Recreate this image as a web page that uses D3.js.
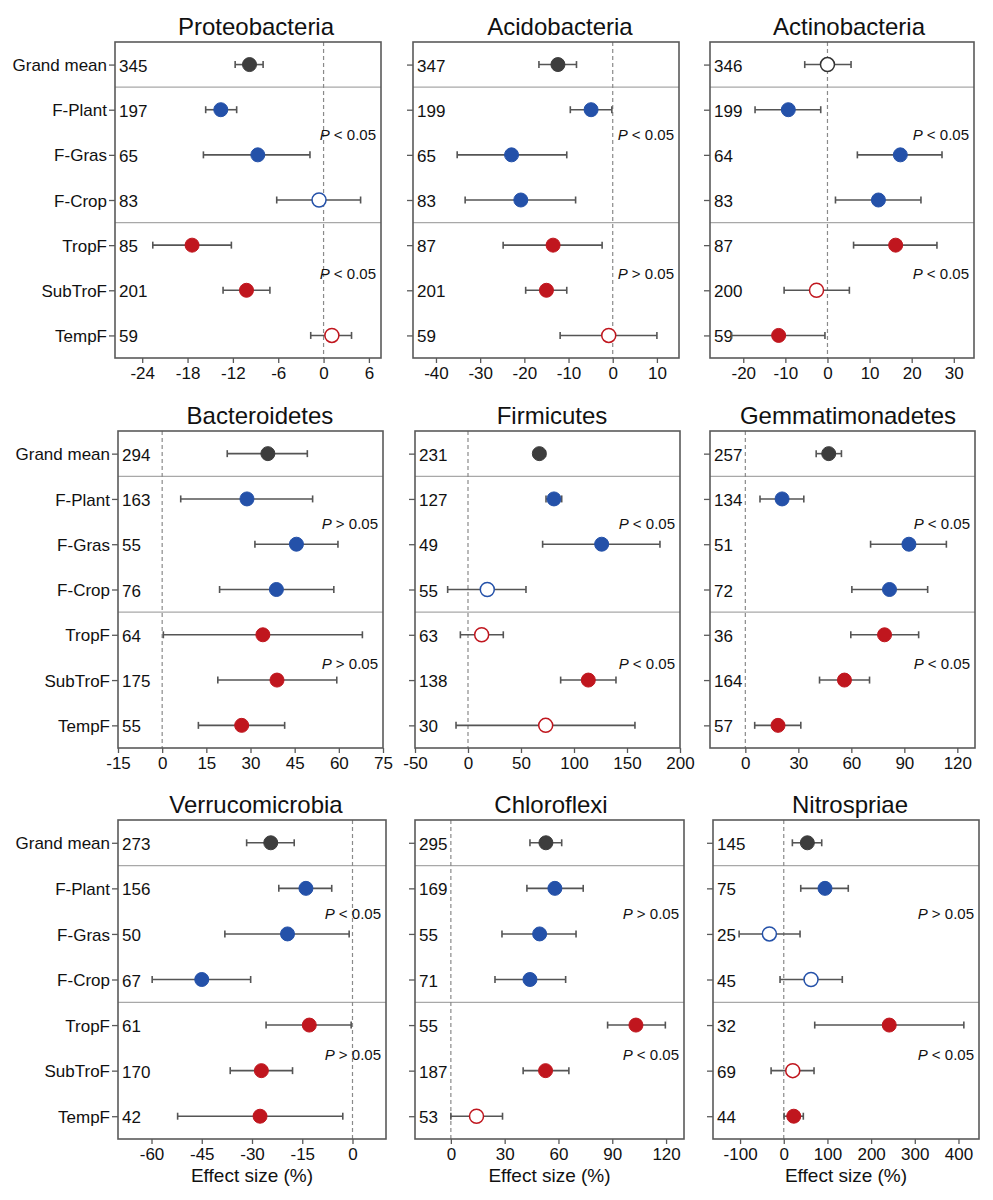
<!DOCTYPE html>
<html>
<head>
<meta charset="utf-8">
<script src="https://cdn.jsdelivr.net/npm/d3@7"></script>
<style>
  html, body { margin: 0; padding: 0; background: #ffffff; }
  svg { display: block; }
  text { font-family: "Liberation Sans", Arial, sans-serif; fill: #111; }
</style>
</head>
<body>
<svg id="chart" width="993" height="1200"></svg>
<script>
// ---------------- DATA ----------------
const rowLabels = ["Grand mean", "F-Plant", "F-Gras", "F-Crop", "TropF", "SubTroF", "TempF"];
const panelTitles = ["Proteobacteria", "Acidobacteria", "Actinobacteria",
                     "Bacteroidetes", "Firmicutes", "Gemmatimonadetes",
                     "Verrucomicrobia", "Chloroflexi", "Nitrospriae"];

const sampleSizes = [
  [345, 197, 65, 83, 85, 201, 59],
  [347, 199, 65, 83, 87, 201, 59],
  [346, 199, 64, 83, 87, 200, 59],
  [294, 163, 55, 76, 64, 175, 55],
  [231, 127, 49, 55, 63, 138, 30],
  [257, 134, 51, 72, 36, 164, 57],
  [273, 156, 50, 67, 61, 170, 42],
  [295, 169, 55, 71, 55, 187, 53],
  [145, 75, 25, 45, 32, 69, 44]
];

const effectMeans = [
  [-9.8, -13.6, -8.7, -0.6, -17.4, -10.2, 1.1],
  [-12.4, -4.9, -22.9, -20.8, -13.5, -15.0, -0.9],
  [0.0, -9.3, 17.3, 12.1, 16.2, -2.6, -11.6],
  [35.9, 28.8, 45.6, 38.8, 34.2, 39.0, 27.0],
  [67.3, 81.1, 126.1, 18.2, 12.9, 113.5, 73.3],
  [47.2, 20.8, 92.6, 81.6, 78.8, 56.1, 18.5],
  [-24.4, -13.9, -19.4, -45.0, -12.9, -27.2, -27.6],
  [53.0, 58.0, 49.5, 44.1, 103.2, 52.8, 14.3],
  [54.0, 94.4, -32.9, 62.4, 241.5, 20.6, 22.9]
];

const ciLower = [
  [-11.7, -15.6, -15.9, -6.2, -22.6, -13.3, -1.7],
  [-16.7, -9.6, -35.2, -33.4, -24.8, -19.7, -11.9],
  [-5.4, -17.2, 7.1, 1.9, 6.2, -10.3, -22.8],
  [22.1, 6.3, 31.5, 19.5, 0.4, 18.9, 12.3],
  [62.0, 73.6, 70.4, -19.2, -7.2, 87.4, -11.3],
  [40.1, 8.3, 70.9, 60.3, 59.7, 42.0, 5.3],
  [-31.6, -22.0, -38.1, -59.8, -25.8, -36.5, -52.2],
  [44.1, 42.4, 28.5, 24.6, 87.4, 40.3, 0.0],
  [19.7, 38.9, -102.2, -8.5, 70.9, -29.0, 0.7]
];

const ciUpper = [
  [-8.0, -11.5, -1.8, 4.9, -12.2, -7.1, 3.7],
  [-8.2, -0.2, -10.4, -8.4, -2.4, -10.4, 10.0],
  [5.6, -1.6, 27.2, 22.2, 26.0, 5.2, -0.6],
  [49.3, 51.1, 59.7, 58.3, 68.0, 59.3, 41.6],
  [73.0, 88.4, 181.1, 54.7, 33.3, 139.6, 157.5],
  [54.4, 33.1, 113.8, 103.2, 98.1, 70.3, 31.4],
  [-17.4, -6.2, -1.0, -30.4, -0.4, -17.9, -2.9],
  [61.8, 73.8, 69.8, 64.0, 119.6, 65.8, 28.8],
  [86.9, 147.7, 37.3, 134.0, 412.3, 69.3, 44.8]
];

// 1 = significant (filled symbol), 0 = not significant (open symbol)
const significant = [
  [1, 1, 1, 0, 1, 1, 0],
  [1, 1, 1, 1, 1, 1, 0],
  [0, 1, 1, 1, 1, 0, 1],
  [1, 1, 1, 1, 1, 1, 1],
  [1, 1, 1, 0, 0, 1, 0],
  [1, 1, 1, 1, 1, 1, 1],
  [1, 1, 1, 1, 1, 1, 1],
  [1, 1, 1, 1, 1, 1, 0],
  [1, 1, 0, 0, 1, 0, 1]
];

// between-group test: [land-use groups, forest-type groups]
const pComparisons = [
  ["<", "<"], ["<", ">"], ["<", "<"],
  [">", ">"], ["<", "<"], ["<", "<"],
  ["<", ">"], [">", "<"], [">", "<"]
];
const pThreshold = "0.05";

const xTicks = [
  [-24, -18, -12, -6, 0, 6],
  [-40, -30, -20, -10, 0, 10],
  [-20, -10, 0, 10, 20, 30],
  [-15, 0, 15, 30, 45, 60, 75],
  [-50, 0, 50, 100, 150, 200],
  [0, 30, 60, 90, 120],
  [-60, -45, -30, -15, 0],
  [0, 30, 60, 90, 120],
  [-100, 0, 100, 200, 300, 400]
];

const xAxisTitle = "Effect size (%)";

// ---------------- LAYOUT ----------------
const xDomains = [
  [-27.6, 7.6], [-45.2, 15], [-27.9, 34.8],
  [-15, 75], [-50, 200], [-20, 130],
  [-70, 10], [-20, 130], [-162, 447]
];
const frames = [
  {x0: 115, x1: 381, y0: 42, y1: 358},
  {x0: 413, x1: 679, y0: 42, y1: 358},
  {x0: 710, x1: 974, y0: 42, y1: 358},
  {x0: 118, x1: 383, y0: 431, y1: 748},
  {x0: 415, x1: 680, y0: 431, y1: 748},
  {x0: 710, x1: 975, y0: 431, y1: 748},
  {x0: 118, x1: 386, y0: 820, y1: 1139},
  {x0: 415, x1: 684, y0: 820, y1: 1139},
  {x0: 713, x1: 979, y0: 820, y1: 1139}
];
const titleCenters = [256, 560, 849, 260, 552, 848, 256, 551, 850];

const COL_GRAND = "#3d3d3d";
const COL_BLUE = "#2451a9";
const COL_RED = "#c0161e";
const groupColor = i => i === 0 ? COL_GRAND : (i <= 3 ? COL_BLUE : COL_RED);

const svg = d3.select("#chart");

panelTitles.forEach((title, p) => {
  const f = frames[p];
  const g = svg.append("g");
  const x = d3.scaleLinear().domain(xDomains[p]).range([f.x0, f.x1]);
  const y = d3.scalePoint().domain(d3.range(rowLabels.length)).range([f.y0, f.y1]).padding(0.5);
  const step = y.step();

  // separators between groups
  [0.5, 3.5].forEach(r => {
    const yy = y(0) + r * step;
    g.append("line").attr("x1", f.x0).attr("x2", f.x1).attr("y1", yy).attr("y2", yy)
      .attr("stroke", "#a8a8a8").attr("stroke-width", 1.2);
  });

  // zero dashed line
  g.append("line").attr("x1", x(0)).attr("x2", x(0)).attr("y1", f.y0).attr("y2", f.y1)
    .attr("stroke", "#8a8a8a").attr("stroke-width", 1.2).attr("stroke-dasharray", "4,3");

  // x axis
  const xAxis = d3.axisBottom(x).tickValues(xTicks[p]).tickSize(5).tickPadding(4).tickFormat(d3.format("d"));
  const ax = g.append("g").attr("transform", `translate(0,${f.y1})`).call(xAxis);
  ax.select(".domain").remove();
  ax.selectAll(".tick line").attr("stroke", "#5a5a5a").attr("stroke-width", 1.3);
  ax.selectAll(".tick text").attr("font-size", 17).attr("fill", "#111")
    .attr("font-family", "'Liberation Sans', Arial, sans-serif")
    .text(d => d < 0 ? "-" + Math.abs(d) : String(d));

  // y axis ticks (and labels on left column)
  const yAxis = d3.axisLeft(y).tickSize(6).tickPadding(2)
    .tickFormat(i => (p % 3 === 0) ? rowLabels[i] : "");
  const ay = g.append("g").attr("transform", `translate(${f.x0},0)`).call(yAxis);
  ay.select(".domain").remove();
  ay.selectAll(".tick line").attr("stroke", "#5a5a5a").attr("stroke-width", 1.3);
  ay.selectAll(".tick text").attr("font-size", 17).attr("fill", "#111")
    .attr("font-family", "'Liberation Sans', Arial, sans-serif")
    .attr("dy", "0.36em");

  // sample size numbers
  g.selectAll("text.n").data(sampleSizes[p]).enter().append("text")
    .attr("class", "n")
    .attr("x", f.x0 + 4)
    .attr("y", (d, i) => y(i) + 7)
    .attr("font-size", 17)
    .text(d => d);

  // error bars
  const rows = d3.range(rowLabels.length).map(i => ({
    i, m: effectMeans[p][i], lo: ciLower[p][i], hi: ciUpper[p][i], sig: significant[p][i]
  }));
  const eb = g.selectAll("g.eb").data(rows).enter().append("g").attr("class", "eb");
  eb.append("line").attr("x1", d => x(d.lo)).attr("x2", d => x(d.hi))
    .attr("y1", d => y(d.i)).attr("y2", d => y(d.i))
    .attr("stroke", "#555").attr("stroke-width", 1.6);
  ["lo", "hi"].forEach(k => {
    eb.append("line").attr("x1", d => x(d[k])).attr("x2", d => x(d[k]))
      .attr("y1", d => y(d.i) - 3.5).attr("y2", d => y(d.i) + 3.5)
      .attr("stroke", "#555").attr("stroke-width", 1.6);
  });

  // points
  g.selectAll("circle.pt").data(rows).enter().append("circle")
    .attr("class", "pt")
    .attr("cx", d => x(d.m)).attr("cy", d => y(d.i)).attr("r", 7)
    .attr("fill", d => d.sig ? groupColor(d.i) : "#ffffff")
    .attr("stroke", d => d.i === 0 && !d.sig ? "#333" : groupColor(d.i))
    .attr("stroke-width", d => d.sig ? 1 : 1.5);

  // P-value labels
  [[2, -15], [5, -11]].forEach(([r, off], k) => {
    const t = g.append("text").attr("x", f.x1 - 5).attr("y", y(r) + off)
      .attr("text-anchor", "end").attr("font-size", 15);
    t.append("tspan").attr("font-style", "italic").text("P");
    t.append("tspan").text(" " + pComparisons[p][k] + " " + pThreshold);
  });

  // frame
  g.append("rect").attr("x", f.x0).attr("y", f.y0).attr("width", f.x1 - f.x0).attr("height", f.y1 - f.y0)
    .attr("fill", "none").attr("stroke", "#5a5a5a").attr("stroke-width", 1.6);

  // title
  g.append("text").attr("x", titleCenters[p]).attr("y", f.y0 - 7)
    .attr("text-anchor", "middle").attr("font-size", 24).text(title);

  // x-axis title on bottom row
  if (p >= 6) {
    g.append("text").attr("x", (f.x0 + f.x1) / 2).attr("y", f.y1 + 43)
      .attr("text-anchor", "middle").attr("font-size", 19).text(xAxisTitle);
  }
});
</script>
</body>
</html>
